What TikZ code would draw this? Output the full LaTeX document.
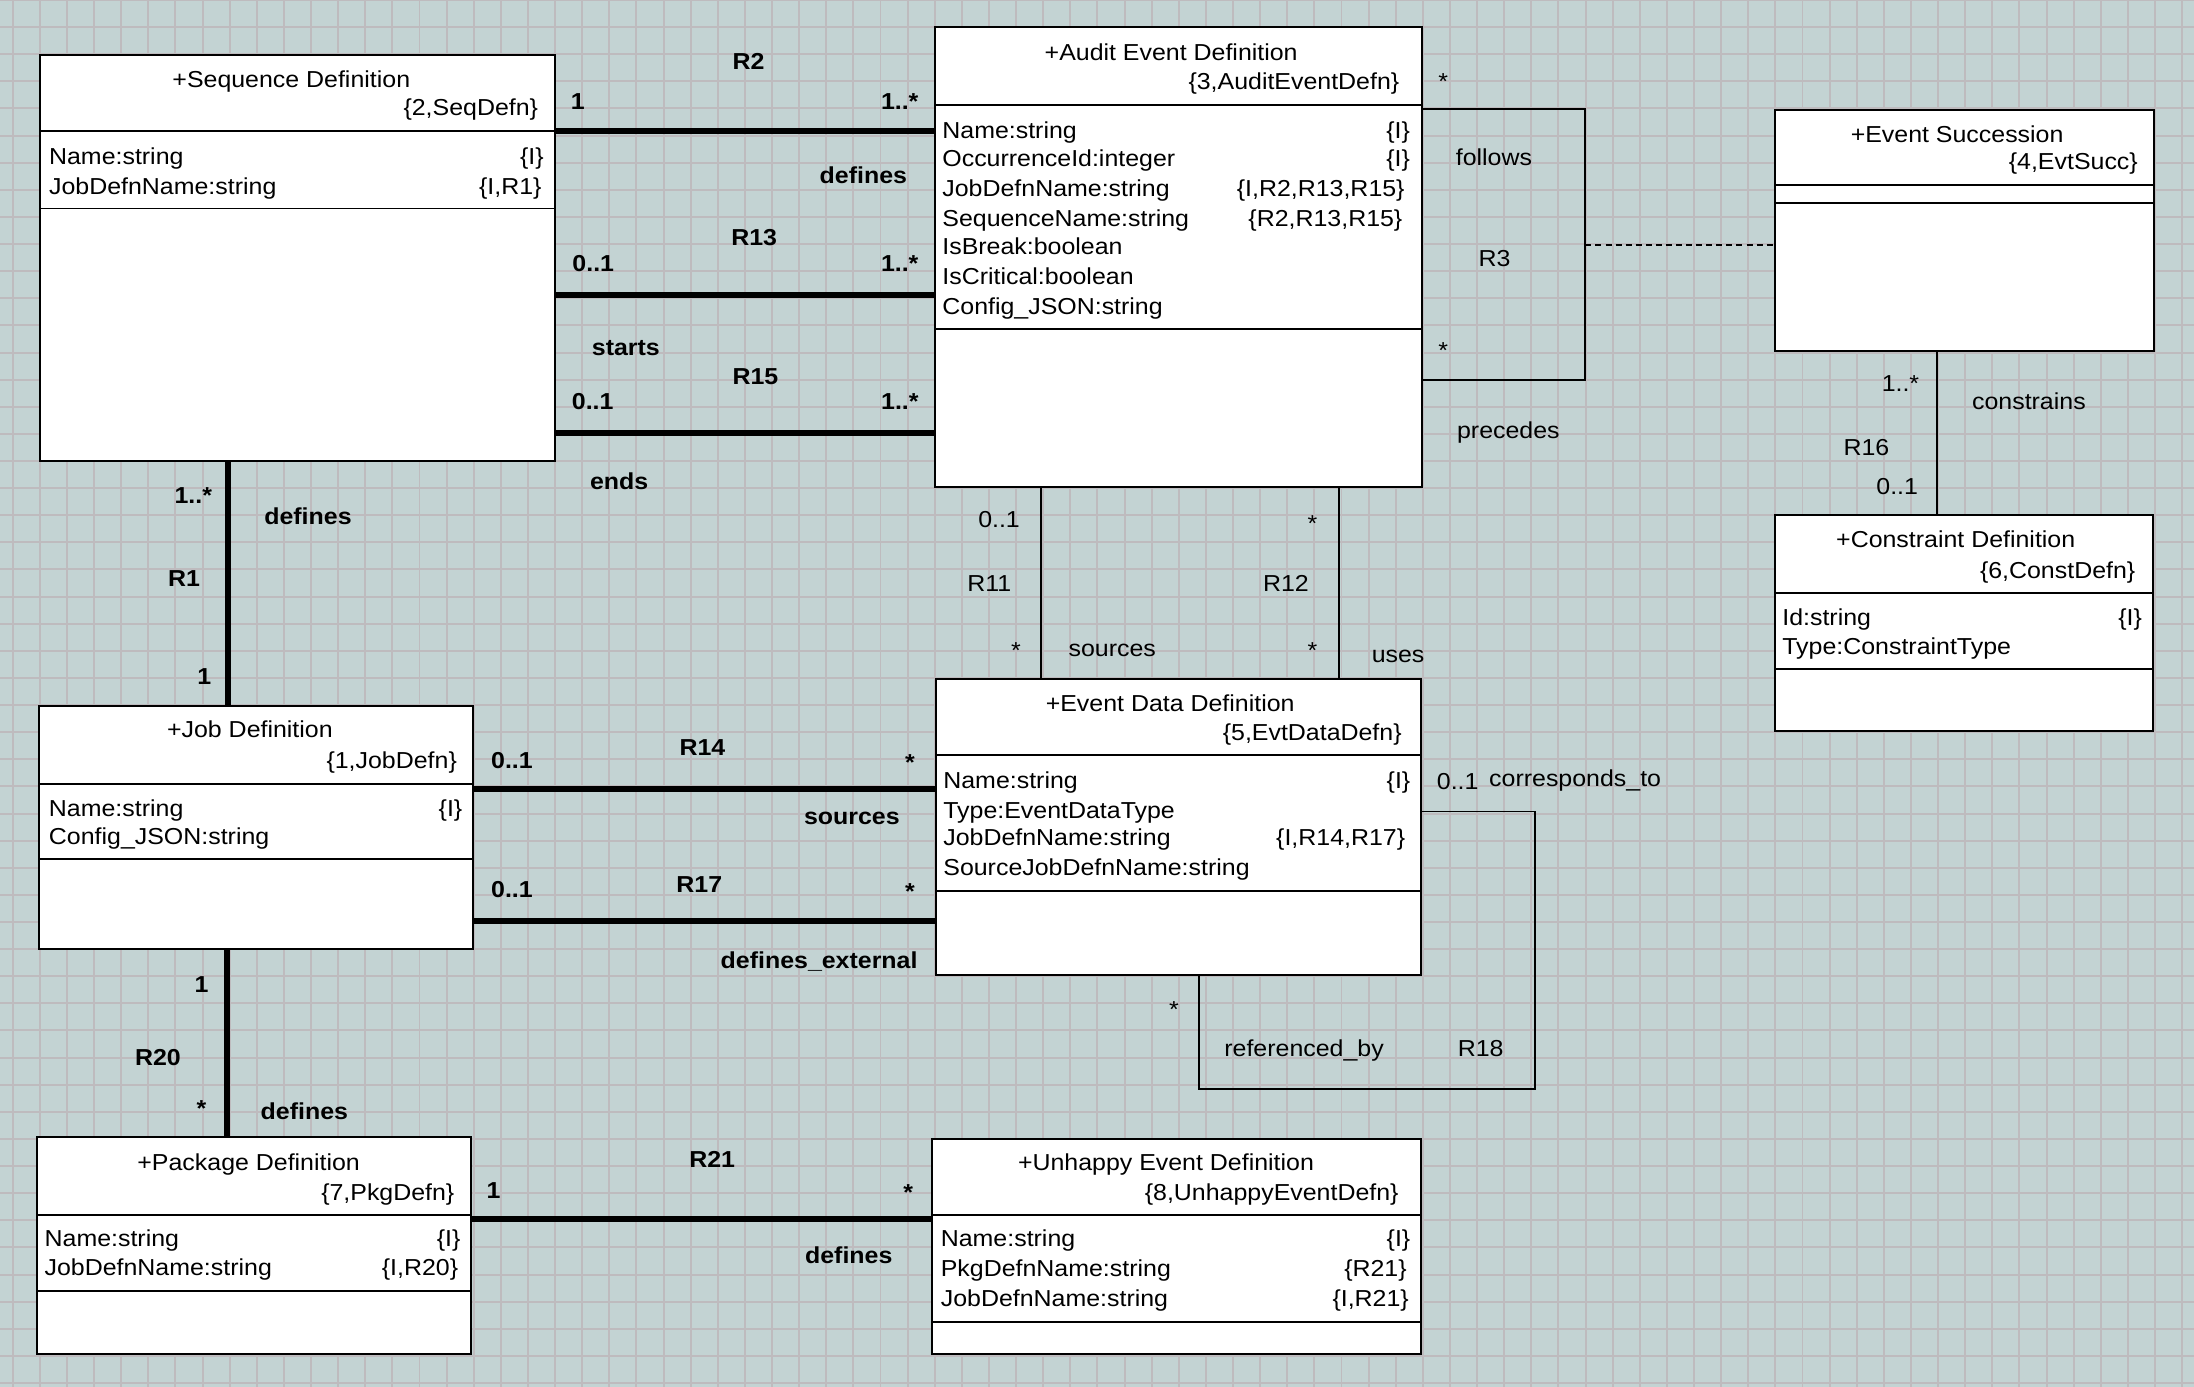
\documentclass[tikz,border=0pt]{standalone}
\usepackage{fontspec}
\setmainfont[FakeStretch=1.08]{Liberation Sans}
\definecolor{bgc}{RGB}{195,211,211}
\definecolor{gridc}{RGB}{190,187,190}
\newcommand\myfs{\fontsize{16.5}{20}\selectfont}
\newcommand\umlbox[7]{%
  \node[box, minimum width={#4-#2}, minimum height={#5-#3}, anchor=north west] (#1) at (#2,#3) {};
  \draw[divl] (#2,#6) -- (#4,#6);
  \draw[divl] (#2,#7) -- (#4,#7);}
\begin{document}
\begin{tikzpicture}[x=1pt,y=-1pt,
  box/.style={draw=black, line width=1.4pt, fill=white, inner sep=0pt, outer sep=0pt},
  divl/.style={line width=1.4pt},
  lbl/.style={inner sep=0pt, outer sep=0pt, anchor=base, yshift=-5.8pt, font=\myfs},
  bl/.style={lbl, font=\myfs\bfseries},
  ast/.style={yshift=-3.8pt},
  lw/.style={lbl, anchor=base west},
  le/.style={lbl, anchor=base east},
  thickln/.style={line width=4.3pt},
  thinln/.style={line width=1.3pt},
  dashln/.style={line width=1.2pt, dash pattern=on 4.3pt off 2.9pt},
  gridln/.style={line width=1.4pt, gridc}]
\useasboundingbox (0,0) rectangle (1568,991);
\fill[bgc] (0,0) rectangle (1568,991);
\begin{scope}
\clip (0,0) rectangle (1568,991);
\foreach \i in {0,...,81} {\draw[gridln] ({9.1+19.38*\i},0) -- ({9.1+19.38*\i},991);}
\foreach \j in {0,...,51} {\draw[gridln] (0,{19.38*\j}) -- (1568,{19.38*\j});}
\end{scope}

% ---------- classes ----------
\umlbox{seq}{28.5}{39.3}{396.7}{329.5}{93.6}{149}
\node[lbl] (seqT) at (208.2,57) {+Sequence Definition};
\node[le] (seqK) at (384.5,77) {\{2,SeqDefn\}};
\node[lw] (seqA1) at (35.1,112) {Name:string};
\node[le] (seqB1) at (388.6,112) {\{I\}};
\node[lw] (seqA2) at (35.1,133) {JobDefnName:string};
\node[le] (seqB2) at (387,133) {\{I,R1\}};

\umlbox{audit}{668}{19.5}{1016}{348}{75}{235}
\node[lbl] (audT) at (837,37.4) {+Audit Event Definition};
\node[le] (audK) at (1000,58.4) {\{3,AuditEventDefn\}};
\node[lw] (audA1) at (673.5,92.9) {Name:string};
\node[le] (audB1) at (1007.6,92.9) {\{I\}};
\node[lw] (audA2) at (673.5,113.2) {OccurrenceId:integer};
\node[le] (audB2) at (1007.6,113.2) {\{I\}};
\node[lw] (audA3) at (673.5,134.6) {JobDefnName:string};
\node[le] (audB3) at (1003.8,134.6) {\{I,R2,R13,R15\}};
\node[lw] (audA4) at (673.5,156) {SequenceName:string};
\node[le] (audB4) at (1002.2,156) {\{R2,R13,R15\}};
\node[lw] (audA5) at (673.5,176.3) {IsBreak:boolean};
\node[lw] (audA6) at (673.5,197.7) {IsCritical:boolean};
\node[lw] (audA7) at (673.5,218.7) {Config\_JSON:string};

\umlbox{succ}{1268.7}{78.3}{1539.7}{250.9}{132.2}{145.2}
\node[lbl] (sucT) at (1398.7,95.9) {+Event Succession};
\node[le] (sucK) at (1527.8,115.4) {\{4,EvtSucc\}};

\umlbox{cons}{1268.7}{368.1}{1538.7}{522.1}{423.8}{478.1}
\node[lbl] (conT) at (1397.7,385.7) {+Constraint Definition};
\node[le] (conK) at (1526,407.4) {\{6,ConstDefn\}};
\node[lw] (conA1) at (1273.8,441.5) {Id:string};
\node[le] (conB1) at (1530.8,441.5) {\{I\}};
\node[lw] (conA2) at (1273.8,461.7) {Type:ConstraintType};

\umlbox{job}{27.6}{504.4}{337.9}{678.2}{560}{613.8}
\node[lbl] (jobT) at (178.6,521.4) {+Job Definition};
\node[le] (jobK) at (326.5,543.3) {\{1,JobDefn\}};
\node[lw] (jobA1) at (35,577.8) {Name:string};
\node[le] (jobB1) at (330.4,577.8) {\{I\}};
\node[lw] (jobA2) at (35,597.7) {Config\_JSON:string};

\umlbox{evd}{668.7}{485.3}{1015.2}{696.7}{539.8}{636.8}
\node[lbl] (evdT) at (836.3,502.7) {+Event Data Definition};
\node[le] (evdK) at (1001.7,523.1) {\{5,EvtDataDefn\}};
\node[lw] (evdA1) at (674.2,557.8) {Name:string};
\node[le] (evdB1) at (1007.9,557.8) {\{I\}};
\node[lw] (evdA2) at (674.2,578.9) {Type:EventDataType};
\node[lw] (evdA3) at (674.2,598.7) {JobDefnName:string};
\node[le] (evdB3) at (1004.2,598.7) {\{I,R14,R17\}};
\node[lw] (evdA4) at (674.2,620) {SourceJobDefnName:string};

\umlbox{pkg}{26.7}{812.8}{336.6}{967.9}{868.4}{922.5}
\node[lbl] (pkgT) at (177.7,830.5) {+Package Definition};
\node[le] (pkgK) at (324.7,852.1) {\{7,PkgDefn\}};
\node[lw] (pkgA1) at (31.9,885.2) {Name:string};
\node[le] (pkgB1) at (329.1,885.2) {\{I\}};
\node[lw] (pkgA2) at (31.9,906.1) {JobDefnName:string};
\node[le] (pkgB2) at (327.4,906.1) {\{I,R20\}};

\umlbox{unh}{665.8}{813.8}{1015.2}{967.9}{868.5}{944.7}
\node[lbl] (unhT) at (833.3,830.8) {+Unhappy Event Definition};
\node[le] (unhK) at (999.5,852.2) {\{8,UnhappyEventDefn\}};
\node[lw] (unhA1) at (672.4,885.2) {Name:string};
\node[le] (unhB1) at (1007.9,885.2) {\{I\}};
\node[lw] (unhA2) at (672.4,906.7) {PkgDefnName:string};
\node[le] (unhB2) at (1005.3,906.7) {\{R21\}};
\node[lw] (unhA3) at (672.4,928.1) {JobDefnName:string};
\node[le] (unhB3) at (1006.8,928.1) {\{I,R21\}};

% ---------- connector levels ----------
\coordinate (yR2) at (0,93.3);
\coordinate (yR13) at (0,210.6);
\coordinate (yR15) at (0,309.2);
\coordinate (xR1) at (163,0);
\coordinate (yR14) at (0,563.6);
\coordinate (yR17) at (0,658.3);
\coordinate (xR20) at (162.4,0);
\coordinate (yR21) at (0,871);
\coordinate (xR11) at (744,0);
\coordinate (xR12) at (957,0);
\coordinate (xR16) at (1384.4,0);
\coordinate (yR3a) at (0,77.7);
\coordinate (yR3b) at (0,271.6);
\coordinate (r3c1) at (1133,77.7);
\coordinate (r3c2) at (1133,271.6);
\coordinate (r3m) at (1133,175);
\coordinate (yR18) at (0,580);
\coordinate (xR18) at (856.9,0);
\coordinate (r18c1) at (1097.2,580);
\coordinate (r18c2) at (1097.2,778);
\coordinate (r18c3) at (856.9,778);

% ---------- connectors ----------
\draw[thickln] (seq.east |- yR2) -- (audit.west |- yR2);
\draw[thickln] (seq.east |- yR13) -- (audit.west |- yR13);
\draw[thickln] (seq.east |- yR15) -- (audit.west |- yR15);
\draw[thickln] (seq.south -| xR1) -- (job.north -| xR1);
\draw[thickln] (job.east |- yR14) -- (evd.west |- yR14);
\draw[thickln] (job.east |- yR17) -- (evd.west |- yR17);
\draw[thickln] (job.south -| xR20) -- (pkg.north -| xR20);
\draw[thickln] (pkg.east |- yR21) -- (unh.west |- yR21);
\draw[thinln] (audit.south -| xR11) -- (evd.north -| xR11);
\draw[thinln] (audit.south -| xR12) -- (evd.north -| xR12);
\draw[thinln] (succ.south -| xR16) -- (cons.north -| xR16);
\draw[thinln] (audit.east |- yR3a) -- (r3c1) -- (r3c2) -- (audit.east |- yR3b);
\draw[dashln] (r3m) -- (succ.west |- r3m);
\draw[thinln] (evd.east |- yR18) -- (r18c1) -- (r18c2) -- (r18c3) -- (evd.south -| xR18);

% ---------- connector labels ----------
\node[bl] (lR2) at (535,44) {R2};
\node[bl] (mR2a) at (413,72.5) {1};
\node[bl] (mR2b) at (643,72.5) {1..*};
\node[bl] (pR2) at (617,125) {defines};
\node[bl] (lR13) at (539,170) {R13};
\node[bl] (mR13a) at (424,188.2) {0..1};
\node[bl] (mR13b) at (643,188.2) {1..*};
\node[bl] (pR13) at (447.3,248.5) {starts};
\node[bl] (lR15) at (539.9,268.7) {R15};
\node[bl] (mR15a) at (423.6,287.1) {0..1};
\node[bl] (mR15b) at (643.1,287.1) {1..*};
\node[bl] (pR15) at (442.5,344.3) {ends};
\node[bl] (mR1a) at (138.1,353.8) {1..*};
\node[bl] (pR1) at (220.1,368.8) {defines};
\node[bl] (lR1) at (131.5,413.3) {R1};
\node[bl] (mR1b) at (146.1,483.1) {1};
\node[bl] (mR14a) at (365.9,543.3) {0..1};
\node[bl] (lR14) at (502,534.3) {R14};
\node[bl,ast] (mR14b) at (650.4,540.8) {*};
\node[bl] (pR14) at (608.8,583.2) {sources};
\node[bl] (mR17a) at (365.9,635.7) {0..1};
\node[bl] (lR17) at (499.8,631.8) {R17};
\node[bl,ast] (mR17b) at (650.4,633.4) {*};
\node[bl] (pR17) at (585.4,686.3) {defines\_external};
\node[bl] (mR20a) at (144,703.3) {1};
\node[bl] (lR20) at (112.9,755.8) {R20};
\node[bl,ast] (mR20b) at (144,788.6) {*};
\node[bl] (pR20) at (217.5,794.4) {defines};
\node[bl] (mR21a) at (352.8,850.8) {1};
\node[bl] (lR21) at (509,828.8) {R21};
\node[bl,ast] (mR21b) at (649,848.2) {*};
\node[bl] (pR21) at (606.6,897.5) {defines};
\node[lbl] (mR11a) at (714,371) {0..1};
\node[lbl] (lR11) at (707,417) {R11};
\node[lbl,ast] (mR11b) at (726,461) {*};
\node[lbl] (pR11) at (794.9,463.5) {sources};
\node[lbl,ast] (mR12a) at (938,370) {*};
\node[lbl] (lR12) at (919,417) {R12};
\node[lbl,ast] (mR12b) at (938,461) {*};
\node[lbl] (pR12) at (999.2,467.6) {uses};
\node[lbl,ast] (mR3a) at (1031.5,54.3) {*};
\node[lbl] (pR3a) at (1067.7,112.4) {follows};
\node[lbl] (lR3) at (1068.2,184.6) {R3};
\node[lbl,ast] (mR3b) at (1031.5,246.6) {*};
\node[lbl] (pR3b) at (1078,307.3) {precedes};
\node[lbl] (mR16a) at (1358.2,274.2) {1..*};
\node[lbl] (pR16) at (1450,287.2) {constrains};
\node[lbl] (lR16) at (1333.9,320) {R16};
\node[lbl] (mR16b) at (1355.9,347.6) {0..1};
\node[lbl] (mR18a) at (1041.8,558.5) {0..1};
\node[lbl] (pR18a) at (1125.7,556.1) {corresponds\_to};
\node[lbl,ast] (mR18b) at (839,717.8) {*};
\node[lbl] (pR18b) at (932,749.4) {referenced\_by};
\node[lbl] (lR18) at (1058.2,749.4) {R18};
\end{tikzpicture}
\end{document}
